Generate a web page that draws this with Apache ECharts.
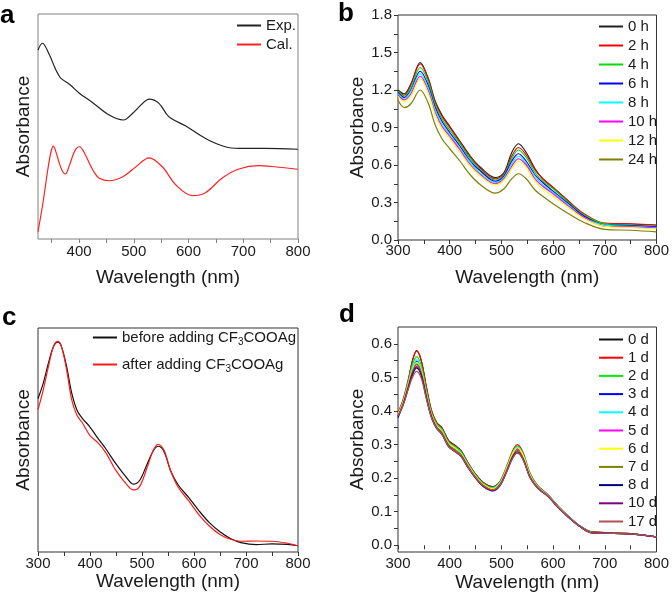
<!DOCTYPE html>
<html><head><meta charset="utf-8">
<script src="https://cdn.jsdelivr.net/npm/echarts@6/dist/echarts.min.js"></script>
<style>html,body{margin:0;padding:0;background:#fff}#c{width:672px;height:599px}</style>
</head><body><div id="c"></div>
<script>
// ---- Panel a ----
const aExpWl = [325,333,346,355,361,367,383,401,425,455,481,498,515,528,546,564,595,631,667,692,740,800];
const aExp   = [0.84,0.87,0.818,0.766,0.736,0.714,0.687,0.647,0.606,0.551,0.529,0.559,0.60,0.622,0.603,0.544,0.502,0.447,0.41,0.403,0.403,0.399];
const aCalWl = [325,334,343,349,353,358,364,370,375,382,389,395,401,408,419,428,437,455,480,504,528,552,577,607,631,661,692,728,758,800];
const aCal   = [0.033,0.16,0.31,0.39,0.413,0.385,0.336,0.30,0.289,0.325,0.373,0.403,0.41,0.39,0.336,0.295,0.27,0.259,0.277,0.321,0.361,0.321,0.24,0.193,0.206,0.27,0.311,0.326,0.321,0.31];
const aNames = ['Exp.','Cal.'];
const aLabels = [400,500,600,700,800];
const aTicks = [350,400,450,500,550,600,650,700,750,800];

// ---- Panel b ----
const bWl = [300,312,325,343,358,372,385,400,420,440,460,488,505,520,533,548,565,580,600,630,660,700,750,800];
const b0h  = [1.20,1.17,1.25,1.42,1.30,1.11,1.00,0.91,0.79,0.67,0.58,0.50,0.54,0.70,0.77,0.70,0.57,0.49,0.42,0.31,0.20,0.13,0.128,0.118];
const b2h  = [1.19,1.16,1.24,1.41,1.29,1.10,0.99,0.90,0.78,0.66,0.57,0.49,0.53,0.67,0.74,0.68,0.56,0.49,0.42,0.31,0.21,0.135,0.13,0.12];
const b4h  = [1.19,1.15,1.22,1.38,1.27,1.08,0.97,0.88,0.77,0.65,0.56,0.48,0.52,0.65,0.72,0.66,0.54,0.47,0.41,0.30,0.20,0.13,0.12,0.11];
const b6h  = [1.18,1.14,1.20,1.35,1.24,1.06,0.95,0.86,0.75,0.63,0.55,0.47,0.51,0.63,0.69,0.63,0.52,0.46,0.39,0.29,0.19,0.12,0.115,0.105];
const b8h  = [1.17,1.13,1.19,1.33,1.22,1.04,0.93,0.84,0.73,0.62,0.53,0.46,0.50,0.61,0.67,0.61,0.51,0.44,0.38,0.28,0.18,0.12,0.11,0.10];
const b10h = [1.16,1.12,1.17,1.31,1.20,1.02,0.91,0.83,0.72,0.60,0.52,0.45,0.49,0.59,0.65,0.60,0.49,0.43,0.37,0.27,0.18,0.11,0.105,0.095];
const b12h = [1.15,1.11,1.15,1.29,1.18,1.00,0.89,0.81,0.70,0.59,0.51,0.44,0.48,0.57,0.63,0.58,0.47,0.41,0.35,0.26,0.17,0.11,0.10,0.09];
const b24h = [1.12,1.06,1.09,1.20,1.10,0.92,0.81,0.73,0.63,0.52,0.44,0.375,0.41,0.49,0.53,0.49,0.40,0.35,0.29,0.21,0.14,0.085,0.078,0.065];
const bSeries = [b0h,b2h,b4h,b6h,b8h,b10h,b12h,b24h];
const bNames = ['0 h','2 h','4 h','6 h','8 h','10 h','12 h','24 h'];
const bColors = ['#222222','#ff0000','#00e000','#0000ff','#00ffff','#ff00ff','#ffff00','#808000'];
const bYLabels = [0,0.3,0.6,0.9,1.2,1.5,1.8];
const bYTicks = [0,0.15,0.3,0.45,0.6,0.75,0.9,1.05,1.2,1.35,1.5,1.65,1.8];
const xLabels = [300,400,500,600,700,800];
const xTicks = [300,350,400,450,500,550,600,650,700,750,800];

// ---- Panel c ----
const cWl = [300,310,320,330,338,345,355,365,375,385,400,415,430,450,470,483,495,510,522,531,542,555,570,590,610,630,650,670,690,720,750,780,800];
const cBefore = [0.685,0.753,0.843,0.918,0.937,0.918,0.828,0.708,0.633,0.598,0.558,0.508,0.462,0.393,0.333,0.303,0.318,0.393,0.453,0.472,0.450,0.363,0.298,0.243,0.183,0.13,0.09,0.06,0.042,0.033,0.036,0.034,0.028];
const cAfter  = [0.636,0.723,0.828,0.918,0.94,0.918,0.813,0.678,0.61,0.578,0.52,0.488,0.445,0.363,0.303,0.277,0.291,0.378,0.456,0.48,0.456,0.363,0.288,0.228,0.165,0.115,0.078,0.057,0.048,0.049,0.048,0.039,0.028];
const cNames = ['before adding CF3COOAg','after adding CF3COOAg'];

// ---- Panel d ----
const dWl = [300,310,320,328,336,345,355,365,375,385,398,410,422,435,450,465,483,497,510,522,531,542,555,570,590,610,630,650,675,700,750,800];
const d0  = [0.39,0.43,0.49,0.55,0.58,0.55,0.47,0.40,0.365,0.350,0.312,0.298,0.282,0.247,0.212,0.187,0.175,0.188,0.228,0.272,0.288,0.268,0.212,0.176,0.150,0.116,0.086,0.060,0.040,0.038,0.035,0.025];
const d1  = [0.395,0.435,0.495,0.55,0.578,0.55,0.47,0.40,0.364,0.348,0.31,0.297,0.28,0.246,0.211,0.186,0.174,0.19,0.235,0.282,0.300,0.276,0.216,0.178,0.151,0.116,0.086,0.060,0.040,0.038,0.035,0.025];
const d2  = [0.39,0.43,0.488,0.538,0.562,0.535,0.46,0.395,0.36,0.345,0.307,0.294,0.278,0.244,0.209,0.184,0.172,0.188,0.232,0.278,0.295,0.272,0.214,0.177,0.150,0.115,0.085,0.059,0.039,0.037,0.035,0.025];
const d3  = [0.385,0.425,0.48,0.525,0.548,0.522,0.45,0.388,0.355,0.34,0.302,0.289,0.273,0.24,0.205,0.18,0.168,0.184,0.227,0.272,0.288,0.266,0.21,0.174,0.148,0.114,0.084,0.058,0.038,0.036,0.034,0.025];
const d4  = [0.39,0.428,0.483,0.53,0.552,0.526,0.453,0.39,0.357,0.342,0.304,0.291,0.275,0.242,0.207,0.182,0.17,0.186,0.23,0.275,0.292,0.269,0.212,0.175,0.149,0.115,0.085,0.059,0.038,0.036,0.034,0.025];
const d5  = [0.385,0.423,0.476,0.517,0.538,0.513,0.445,0.385,0.352,0.337,0.3,0.287,0.271,0.238,0.204,0.179,0.166,0.182,0.225,0.27,0.285,0.263,0.208,0.173,0.147,0.113,0.084,0.058,0.037,0.036,0.034,0.025];
const d6  = [0.39,0.426,0.48,0.523,0.545,0.52,0.449,0.388,0.355,0.34,0.302,0.289,0.273,0.24,0.206,0.181,0.168,0.184,0.228,0.273,0.29,0.267,0.21,0.174,0.148,0.114,0.084,0.058,0.037,0.036,0.034,0.025];
const d7  = [0.385,0.422,0.475,0.518,0.54,0.515,0.445,0.385,0.352,0.336,0.299,0.285,0.27,0.237,0.203,0.178,0.165,0.181,0.223,0.267,0.282,0.26,0.206,0.172,0.147,0.113,0.083,0.058,0.037,0.036,0.034,0.025];
const d8  = [0.38,0.418,0.468,0.508,0.528,0.505,0.437,0.379,0.347,0.33,0.293,0.279,0.264,0.232,0.2,0.175,0.162,0.177,0.218,0.261,0.275,0.255,0.203,0.17,0.146,0.112,0.083,0.058,0.037,0.036,0.034,0.025];
const d10 = [0.385,0.42,0.47,0.512,0.532,0.508,0.44,0.381,0.349,0.332,0.295,0.281,0.266,0.234,0.201,0.176,0.163,0.179,0.22,0.264,0.278,0.257,0.204,0.171,0.146,0.112,0.083,0.058,0.037,0.036,0.034,0.025];
const d17 = [0.385,0.418,0.465,0.5,0.518,0.497,0.435,0.379,0.348,0.331,0.294,0.28,0.265,0.234,0.202,0.178,0.165,0.179,0.218,0.26,0.275,0.255,0.203,0.17,0.146,0.112,0.083,0.058,0.037,0.036,0.034,0.025];
const dSeries = [d0,d1,d2,d3,d4,d5,d6,d7,d8,d10,d17];
const dNames = ['0 d','1 d','2 d','3 d','4 d','5 d','6 d','7 d','8 d','10 d','17 d'];
const dColors = ['#111111','#ff0000','#00ee00','#0000ff','#00ffff','#ff00ff','#ffff00','#808000','#000080','#800080','#b05050'];
const dYLabels = [0,0.1,0.2,0.3,0.4,0.5,0.6];
const dYTicks = [0,0.05,0.1,0.15,0.2,0.25,0.3,0.35,0.4,0.45,0.5,0.55,0.6];

const FONT = '"Liberation Sans", Arial, sans-serif';
const zip = (xs, ys) => xs.map((x, i) => [x, ys[i]]);

function xAx(grid, min, labels, ticks, color, margin, gap) {
  return {
    gridIndex: grid, type: 'value', min: min, max: 800,
    axisLine: {show: false},
    axisTick: {show: true, customValues: ticks, length: 4, lineStyle: {color: color, width: 1}},
    axisLabel: {customValues: labels, fontSize: 15, color: '#1a1a1a', margin: margin, fontFamily: FONT},
    splitLine: {show: false},
    name: 'Wavelength (nm)', nameLocation: 'middle', nameGap: gap,
    nameTextStyle: {fontSize: 19, color: '#1a1a1a', fontFamily: FONT}
  };
}
function yAx(grid, min, max, labels, ticks, gap) {
  const o = {
    gridIndex: grid, type: 'value', min: min, max: max,
    axisLine: {show: false}, splitLine: {show: false},
    name: 'Absorbance', nameLocation: 'middle', nameGap: gap,
    nameTextStyle: {fontSize: 19, color: '#1a1a1a', fontFamily: FONT}
  };
  if (labels) {
    o.axisTick = {show: true, customValues: ticks, length: 4, lineStyle: {color: '#333', width: 1}};
    o.axisLabel = {customValues: labels, fontSize: 15, color: '#1a1a1a', margin: 6, fontFamily: FONT,
                   formatter: v => Number(v).toFixed(1)};
  } else {
    o.axisTick = {show: false};
    o.axisLabel = {show: false};
  }
  return o;
}
function line(name, xi, data, color) {
  return {
    name: name, type: 'line', xAxisIndex: xi, yAxisIndex: xi, data: data,
    showSymbol: false, symbol: 'none', smooth: 0.35,
    lineStyle: {width: 1.2, color: color}, itemStyle: {color: color},
    emphasis: {disabled: true}
  };
}

const series = [];
series.push(line(aNames[0], 0, zip(aExpWl, aExp), '#222222'));
series.push(line(aNames[1], 0, zip(aCalWl, aCal), '#ff2020'));
bSeries.forEach((s, i) => series.push(line(bNames[i], 1, zip(bWl, s), bColors[i])));
series.push(line(cNames[0], 2, zip(cWl, cBefore), '#111111'));
series.push(line(cNames[1], 2, zip(cWl, cAfter), '#ff1a1a'));
dSeries.forEach((s, i) => series.push(line(dNames[i], 3, zip(dWl, s), dColors[i])));

function mkLegend(names, left, top, gap, extra) {
  return Object.assign({
    show: true, type: 'plain', orient: 'vertical', left: left, top: top, itemGap: gap,
    padding: 0, icon: 'rect', itemWidth: 24, itemHeight: 2, selectedMode: false,
    data: names.map(n => ({name: n})),
    textStyle: {fontSize: 15, color: '#1a1a1a', fontFamily: FONT}
  }, extra || {});
}

const option = {
  animation: false,
  textStyle: {fontFamily: FONT},
  grid: [
    {left: 38, top: 14, width: 260, height: 225, show: true, borderColor: '#808080', borderWidth: 1},
    {left: 398, top: 15, width: 261, height: 225, show: true, borderColor: '#333', borderWidth: 1},
    {left: 38, top: 328, width: 260, height: 224, show: true, borderColor: '#333', borderWidth: 1},
    {left: 398, top: 327, width: 261, height: 225, show: true, borderColor: '#333', borderWidth: 1}
  ],
  xAxis: [
    xAx(0, 325, aLabels, aTicks, '#808080', 5, 29),
    xAx(1, 300, xLabels, xTicks, '#333', 3, 28),
    xAx(2, 300, xLabels, xTicks, '#333', 4, 18),
    xAx(3, 300, xLabels, xTicks, '#333', 4, 21)
  ],
  yAxis: [
    yAx(0, 0, 1, null, null, 5),
    yAx(1, 0, 1.8, bYLabels, bYTicks, 30),
    yAx(2, 0, 1, null, null, 5),
    yAx(3, -0.02, 0.65, dYLabels, dYTicks, 30)
  ],
  legend: [
    mkLegend(aNames, 237, 18, 4),
    mkLegend(bNames, 599, 19, 4),
    mkLegend(cNames, 93, 330, 10, {
      formatter: n => n.replace('CF3', 'CF{s|3}'),
      textStyle: {fontSize: 15, color: '#1a1a1a', fontFamily: FONT,
        rich: {s: {fontSize: 10, color: '#1a1a1a', fontFamily: FONT, padding: [9, 0, 0, 0]}}}
    }),
    mkLegend(dNames, 599, 332, 3.2)
  ],
  graphic: [
    {type: 'text', left: 0, top: 3, style: {text: 'a', font: 'bold 26px ' + FONT, fill: '#000'}},
    {type: 'text', left: 338, top: 1, style: {text: 'b', font: 'bold 26px ' + FONT, fill: '#000'}},
    {type: 'text', left: 2, top: 305, style: {text: 'c', font: 'bold 26px ' + FONT, fill: '#000'}},
    {type: 'text', left: 339, top: 302, style: {text: 'd', font: 'bold 26px ' + FONT, fill: '#000'}}
  ],
  series: series
};
const chart = echarts.init(document.getElementById('c'), null, {renderer: 'canvas'});
chart.setOption(option);
</script></body></html>
